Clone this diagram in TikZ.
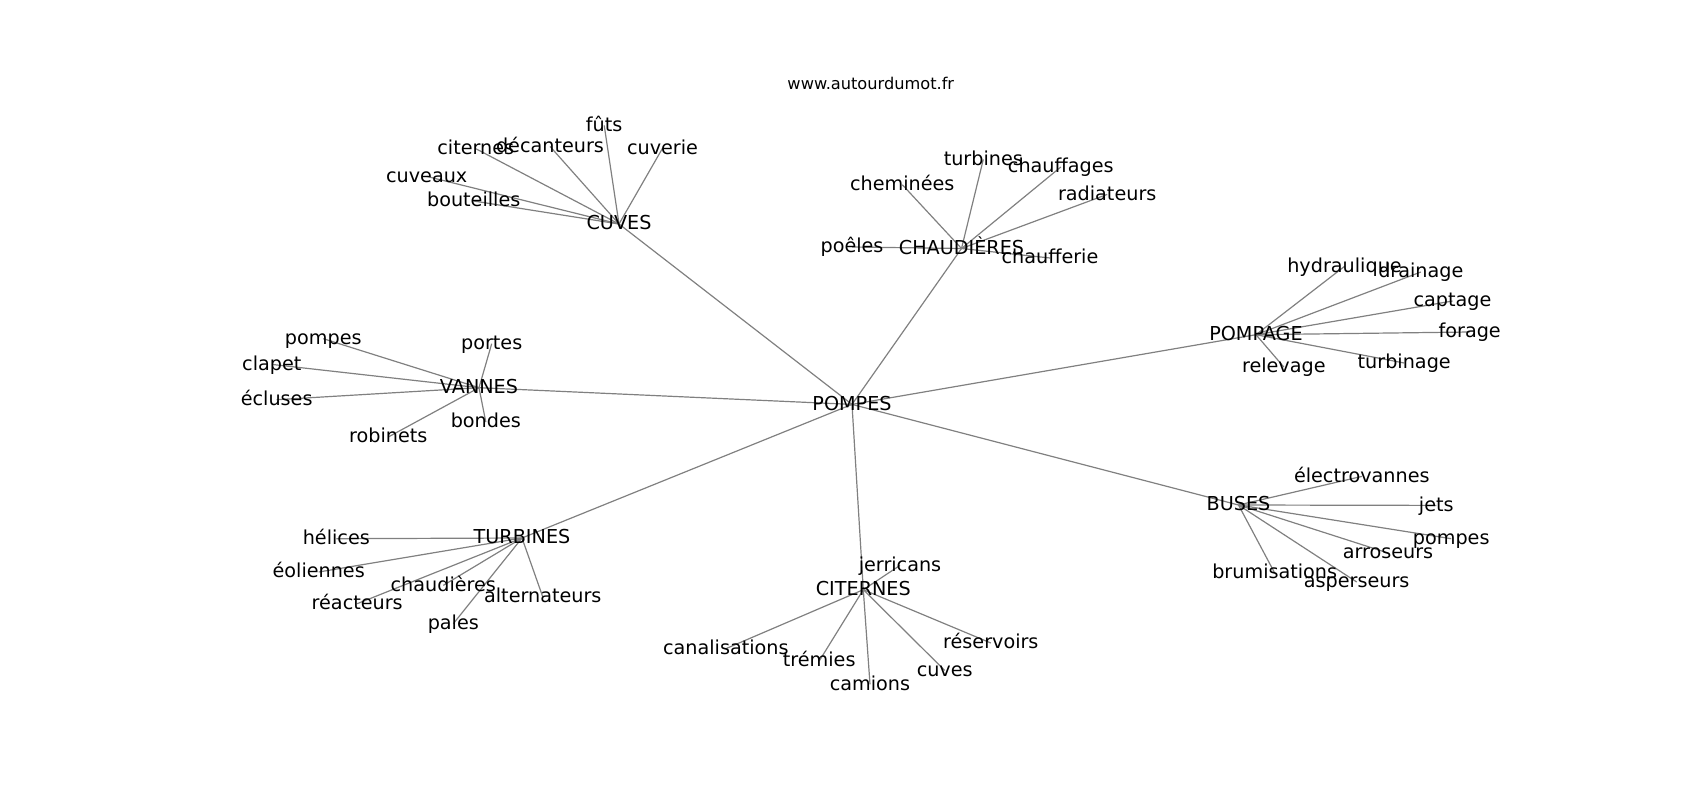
\documentclass[tikz,border=0pt]{standalone}
\usepackage{fontspec}
\setmainfont{DejaVu Sans}
\usetikzlibrary{backgrounds}
\tikzset{
  lbl/.style={font=\fontsize{19.2}{22}\selectfont, inner sep=0pt, text height=15.3pt, text depth=3.84pt, anchor=center},
  ttl/.style={font=\fontsize{16.2}{19}\selectfont, inner sep=0pt, anchor=base},
  edge/.style={draw=gray, line width=1.2pt}
}
\begin{document}
\begin{tikzpicture}[x=1pt,y=-1pt]
\useasboundingbox (0,0) rectangle (1700,800);
\begin{scope}[yshift=-1pt]
\node[ttl] (title) at (870.8,88.3) {www.autourdumot.fr};
% hubs
\node[lbl] (pompes) at (852,403.4) {POMPES};
\node[lbl] (cuves) at (619,223) {CUVES};
\node[lbl] (chaud) at (961.5,247.5) {CHAUDIÈRES};
\node[lbl] (pompage) at (1256,333.7) {POMPAGE};
\node[lbl] (vannes) at (479,386.7) {VANNES};
\node[lbl] (turb) at (522,537) {TURBINES};
\node[lbl] (cit) at (863.3,588.7) {CITERNES};
\node[lbl] (buses) at (1238.5,504) {BUSES};
% cuves
\node[lbl] (futs) at (604.2,124.4) {fûts};
\node[lbl] (citernes) at (475.8,147.7) {citernes};
\node[lbl] (decant) at (550,145.4) {décanteurs};
\node[lbl] (cuverie) at (662.5,147.3) {cuverie};
\node[lbl] (cuveaux) at (426.7,175.4) {cuveaux};
\node[lbl] (bout) at (473.7,200) {bouteilles};
% chaudieres
\node[lbl] (poeles) at (852,246) {poêles};
\node[lbl] (chem) at (902.3,183.7) {cheminées};
\node[lbl] (turbines2) at (983.3,158.4) {turbines};
\node[lbl] (chauff) at (1060.8,166) {chauffages};
\node[lbl] (radia) at (1107.2,193.4) {radiateurs};
\node[lbl] (chaufferie) at (1050,257) {chaufferie};
% pompage
\node[lbl] (hydr) at (1344.5,265.4) {hydraulique};
\node[lbl] (drain) at (1420.8,271) {drainage};
\node[lbl] (capt) at (1452.5,300) {captage};
\node[lbl] (forage) at (1469.7,331) {forage};
\node[lbl] (relev) at (1283.8,366) {relevage};
\node[lbl] (turbinage) at (1404.2,362) {turbinage};
% vannes
\node[lbl] (vpompes) at (323.3,337.7) {pompes};
\node[lbl] (portes) at (491.7,342.7) {portes};
\node[lbl] (clapet) at (271.8,363.4) {clapet};
\node[lbl] (ecluses) at (276.7,398.7) {écluses};
\node[lbl] (bondes) at (485.8,421) {bondes};
\node[lbl] (robinets) at (388.3,436) {robinets};
% turbines
\node[lbl] (helices) at (336.3,537.7) {hélices};
\node[lbl] (eol) at (318.7,571) {éoliennes};
\node[lbl] (tchaud) at (443.3,584.4) {chaudières};
\node[lbl] (react) at (357.2,602.7) {réacteurs};
\node[lbl] (altern) at (542.8,596) {alternateurs};
\node[lbl] (pales) at (453.3,622.7) {pales};
% citernes
\node[lbl] (jerr) at (900,564.4) {jerricans};
\node[lbl] (canal) at (725.8,647.7) {canalisations};
\node[lbl] (tremies) at (819.2,660) {trémies};
\node[lbl] (camions) at (870,683.4) {camions};
\node[lbl] (ccuves) at (944.7,669.4) {cuves};
\node[lbl] (reserv) at (990.8,642) {réservoirs};
% buses
\node[lbl] (electro) at (1361.8,475.4) {électrovannes};
\node[lbl] (jets) at (1436.3,504.4) {jets};
\node[lbl] (bpompes) at (1451.2,537.7) {pompes};
\node[lbl] (arros) at (1388,552) {arroseurs};
\node[lbl] (brum) at (1274.7,572) {brumisations};
\node[lbl] (asper) at (1356.7,581) {asperseurs};
\end{scope}
\begin{pgfonlayer}{background}
\foreach \h in {cuves,chaud,pompage,vannes,turb,cit,buses}
  \draw[edge] (pompes.center) -- (\h.center);
\foreach \l in {futs,citernes,decant,cuverie,cuveaux,bout}
  \draw[edge] (cuves.center) -- (\l.center);
\foreach \l in {poeles,chem,turbines2,chauff,radia,chaufferie}
  \draw[edge] (chaud.center) -- (\l.center);
\foreach \l in {hydr,drain,capt,forage,relev,turbinage}
  \draw[edge] (pompage.center) -- (\l.center);
\foreach \l in {vpompes,portes,clapet,ecluses,bondes,robinets}
  \draw[edge] (vannes.center) -- (\l.center);
\foreach \l in {helices,eol,tchaud,react,altern,pales}
  \draw[edge] (turb.center) -- (\l.center);
\foreach \l in {jerr,canal,tremies,camions,ccuves,reserv}
  \draw[edge] (cit.center) -- (\l.center);
\foreach \l in {electro,jets,bpompes,arros,brum,asper}
  \draw[edge] (buses.center) -- (\l.center);
\end{pgfonlayer}
\end{tikzpicture}
\end{document}
